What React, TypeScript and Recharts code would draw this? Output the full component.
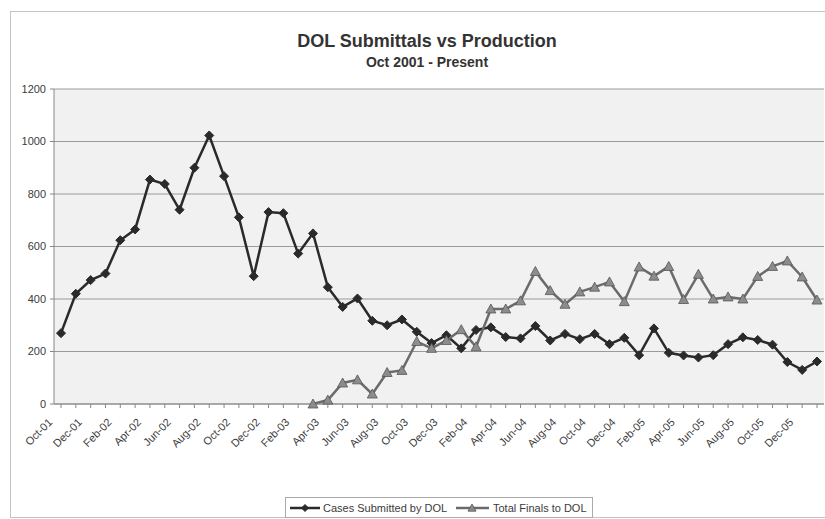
import { LineChart, Line, XAxis, YAxis, CartesianGrid } from "recharts";

const months = [
  "Oct-01", "Nov-01", "Dec-01", "Jan-02", "Feb-02", "Mar-02", "Apr-02", "May-02",
  "Jun-02", "Jul-02", "Aug-02", "Sep-02", "Oct-02", "Nov-02", "Dec-02", "Jan-03",
  "Feb-03", "Mar-03", "Apr-03", "May-03", "Jun-03", "Jul-03", "Aug-03", "Sep-03",
  "Oct-03", "Nov-03", "Dec-03", "Jan-04", "Feb-04", "Mar-04", "Apr-04", "May-04",
  "Jun-04", "Jul-04", "Aug-04", "Sep-04", "Oct-04", "Nov-04", "Dec-04", "Jan-05",
  "Feb-05", "Mar-05", "Apr-05", "May-05", "Jun-05", "Jul-05", "Aug-05", "Sep-05",
  "Oct-05", "Nov-05", "Dec-05", "Jan-06",
];

const casesSubmitted = [
  270, 420, 472, 497, 624, 665, 855, 838, 740, 900, 1023, 868, 711, 487, 731, 727,
  573, 650, 445, 370, 402, 317, 300, 322, 275, 232, 262, 212, 282, 292, 255, 250,
  297, 242, 267, 247, 267, 228, 252, 186, 288, 195, 185, 177, 186, 228, 254, 244,
  226, 160, 130, 162,
];

const totalFinals: (number | null)[] = [
  null, null, null, null, null, null, null, null, null, null, null, null, null, null,
  null, null, null,
  0, 15, 80, 92, 38, 120, 128, 238, 212, 242, 283, 218, 362, 362, 393, 505, 432, 380,
  427, 445, 465, 390, 522, 487, 524, 398, 494, 400, 408, 400, 486, 524, 545, 484, 396,
];

const yTicks = [0, 200, 400, 600, 800, 1000, 1200];

const data = months.map((month, i) => ({
  month,
  cases: casesSubmitted[i],
  finals: totalFinals[i],
}));

const FONT = "'Liberation Sans', Arial, Helvetica, sans-serif";
const TEXT = "#3c3c3c";
const CASES_COLOR = "#2a2a2a";
const FINALS_LINE = "#6b6b6b";
const FINALS_FILL = "#8c8c8c";

function Diamond({ cx, cy, size = 4.5, fill }: { cx: number; cy: number; size?: number; fill: string }) {
  return (
    <path
      d={`M${cx},${cy - size} L${cx + size},${cy} L${cx},${cy + size} L${cx - size},${cy} Z`}
      fill={fill}
      stroke={fill}
    />
  );
}

function Triangle({ cx, cy, size = 5 }: { cx: number; cy: number; size?: number }) {
  return (
    <path
      d={`M${cx},${cy - size} L${cx + size},${cy + size * 0.8} L${cx - size},${cy + size * 0.8} Z`}
      fill={FINALS_FILL}
      stroke="#555"
      strokeWidth={0.8}
    />
  );
}

const renderDiamond = (props: any) => {
  const { cx, cy, index } = props;
  if (cx == null || cy == null) return <g key={`d-${index}`} />;
  return <Diamond key={`d-${index}`} cx={cx} cy={cy} fill={CASES_COLOR} />;
};

const renderTriangle = (props: any) => {
  const { cx, cy, index, value } = props;
  if (cx == null || cy == null || value == null) return <g key={`t-${index}`} />;
  return <Triangle key={`t-${index}`} cx={cx} cy={cy} />;
};

// labels only on every other month, tick marks on all of them
const MonthTick = (props: any) => {
  const { x, y, payload, index } = props;
  if (index % 2 !== 0) return <g />;
  return (
    <g transform={`translate(${x - 8},${y + 13})`}>
      <text
        textAnchor="end"
        transform="rotate(-45)"
        fontSize={11}
        fontFamily={FONT}
        style={{ fill: TEXT }}
      >
        {payload.value}
      </text>
    </g>
  );
};

export default function App() {
  return (
    <div
      style={{
        position: "absolute",
        left: 0,
        top: 0,
        width: 825,
        height: 519,
        background: "#fff",
        fontFamily: FONT,
      }}
    >
      <svg
        width={825}
        height={519}
        style={{ position: "absolute", left: 0, top: 0 }}
      >
        {/* chart area border */}
        <rect x={10.5} y={11.5} width={830} height={506} fill="none" stroke="#c4c4c4" />
        <text x={427} y={47} textAnchor="middle" fontSize={18} fontWeight="bold" fill="#333" fontFamily={FONT}>
          DOL Submittals vs Production
        </text>
        <text x={427} y={67} textAnchor="middle" fontSize={14} fontWeight="bold" fill="#333" fontFamily={FONT}>
          Oct 2001 - Present
        </text>
      </svg>

      <div style={{ position: "absolute", left: 0, top: 0 }}>
        <LineChart
          width={825}
          height={519}
          data={data}
          margin={{ top: 89, right: 1, left: 0, bottom: 0 }}
        >
          <CartesianGrid vertical={false} stroke="#9a9a9a" fill="#f1f1f1" />
          <XAxis
            dataKey="month"
            interval={0}
            height={115}
            tick={<MonthTick />}
            tickSize={4}
            tickLine={{ stroke: "#888" }}
            axisLine={{ stroke: "#888" }}
            padding={{ left: 7, right: 7 }}
          />
          <YAxis
            width={54}
            domain={[0, 1200]}
            ticks={yTicks}
            tickSize={4}
            tickMargin={4}
            tick={{ fontSize: 11, fill: TEXT, fontFamily: FONT }}
            tickLine={{ stroke: "#888" }}
            axisLine={{ stroke: "#888" }}
          />
          <Line
            dataKey="cases"
            stroke={CASES_COLOR}
            strokeWidth={2.5}
            dot={renderDiamond}
            activeDot={false}
            isAnimationActive={false}
          />
          <Line
            dataKey="finals"
            stroke={FINALS_LINE}
            strokeWidth={2.5}
            dot={renderTriangle}
            activeDot={false}
            connectNulls={false}
            isAnimationActive={false}
          />
        </LineChart>
      </div>

      {/* legend */}
      <svg
        width={825}
        height={519}
        style={{ position: "absolute", left: 0, top: 0, pointerEvents: "none" }}
      >
        <rect x={285.5} y={497.5} width={307} height={20} fill="#fff" stroke="#aaa" />
        <line x1={290} y1={508} x2={320} y2={508} stroke={CASES_COLOR} strokeWidth={2.5} />
        <Diamond cx={305} cy={508} size={3.5} fill={CASES_COLOR} />
        <text x={323} y={512} fontSize={11} fill={TEXT} fontFamily={FONT}>
          Cases Submitted by DOL
        </text>
        <line x1={456} y1={508} x2={489} y2={508} stroke={FINALS_LINE} strokeWidth={2.5} />
        <Triangle cx={472} cy={508} size={4} />
        <text x={493} y={512} fontSize={11} fill={TEXT} fontFamily={FONT}>
          Total Finals to DOL
        </text>
      </svg>
    </div>
  );
}
